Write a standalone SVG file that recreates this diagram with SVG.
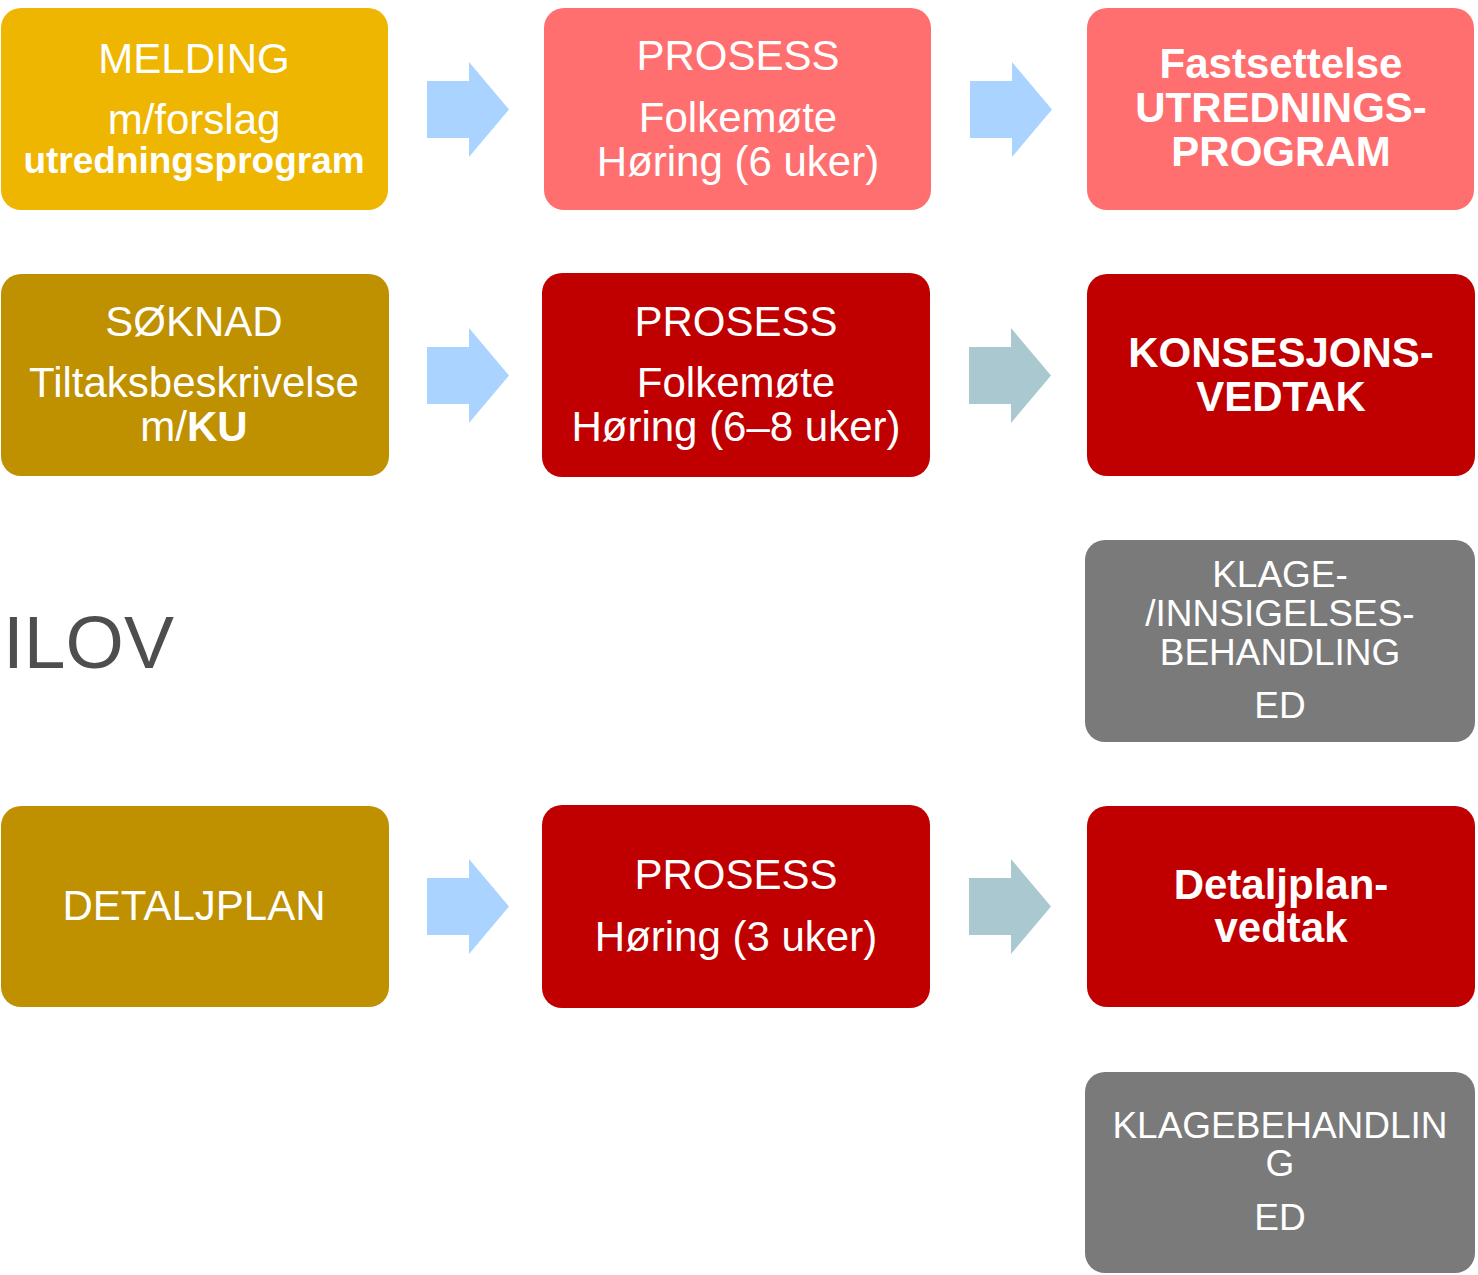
<svg xmlns="http://www.w3.org/2000/svg" width="1478" height="1275" viewBox="0 0 1478 1275">
<style>
text{font-family:"Liberation Sans",Arial,sans-serif;fill:#ffffff;text-anchor:middle}
.r{font-size:42px}
.b{font-size:42px;font-weight:bold}
.b37{font-size:37px;font-weight:bold}
.s{font-size:37px}
.gold{fill:#eeb600}
.ochre{fill:#bf9000}
.salmon{fill:#ff6f6f}
.red{fill:#c00000}
.gray{fill:#7a7a7a}
.a1{fill:#aad4ff}
.a2{fill:#aac8d0}
</style>
<defs>
<path id="arr" d="M0,19 H42 V0 L82,47.5 L42,95 V76 H0 Z"/>
</defs>
<rect width="1478" height="1275" fill="#ffffff"/>
<g id="connectors">
<use href="#arr" x="427" y="62" class="a1"/>
<use href="#arr" x="970" y="62" class="a1"/>
<use href="#arr" x="427" y="328" class="a1"/>
<use href="#arr" x="969" y="328" class="a2"/>
<use href="#arr" x="427" y="859" class="a1"/>
<use href="#arr" x="969" y="859" class="a2"/>
</g>
<g id="melding">
<rect x="1" y="8" width="387" height="202" rx="20" class="gold"/>
<text x="194" y="73" class="r">MELDING</text>
<text x="194" y="134" class="r">m/forslag</text>
<text x="194" y="173" class="b37">utredningsprogram</text>
</g>
<g id="prosess1">
<rect x="544" y="8" width="387" height="202" rx="20" class="salmon"/>
<text x="738" y="70" class="r">PROSESS</text>
<text x="738" y="132" class="r">Folkemøte</text>
<text x="738" y="176" class="r">Høring (6 uker)</text>
</g>
<g id="fastsettelse">
<rect x="1087" y="8" width="387" height="202" rx="20" class="salmon"/>
<text x="1281" y="78" class="b">Fastsettelse</text>
<text x="1281" y="122" class="b">UTREDNINGS-</text>
<text x="1281" y="166" class="b">PROGRAM</text>
</g>
<g id="soknad">
<rect x="1" y="274" width="388" height="202" rx="20" class="ochre"/>
<text x="194" y="336" class="r">SØKNAD</text>
<text x="194" y="397" class="r">Tiltaksbeskrivelse</text>
<text x="194" y="441" class="r">m/<tspan font-weight="bold">KU</tspan></text>
</g>
<g id="prosess2">
<rect x="542" y="273" width="388" height="204" rx="20" class="red"/>
<text x="736" y="336" class="r">PROSESS</text>
<text x="736" y="397" class="r">Folkemøte</text>
<text x="736" y="441" class="r">Høring (6–8 uker)</text>
</g>
<g id="konsesjonsvedtak">
<rect x="1087" y="274" width="388" height="202" rx="20" class="red"/>
<text x="1281" y="367" class="b">KONSESJONS-</text>
<text x="1281" y="411" class="b">VEDTAK</text>
</g>
<g id="klage1">
<rect x="1085" y="540" width="390" height="202" rx="20" class="gray"/>
<text x="1280" y="587" class="s">KLAGE-</text>
<text x="1280" y="626" class="s">/INNSIGELSES-</text>
<text x="1280" y="665" class="s">BEHANDLING</text>
<text x="1280" y="718" class="s">ED</text>
</g>
<g id="ilov">
<text x="3" y="668" style="font-size:75px;fill:#4e4e50;text-anchor:start">ILOV</text>
</g>
<g id="detaljplan">
<rect x="1" y="806" width="388" height="201" rx="20" class="ochre"/>
<text x="194" y="920" class="r">DETALJPLAN</text>
</g>
<g id="prosess3">
<rect x="542" y="805" width="388" height="203" rx="20" class="red"/>
<text x="736" y="889" class="r">PROSESS</text>
<text x="736" y="951" class="r">Høring (3 uker)</text>
</g>
<g id="detaljplanvedtak">
<rect x="1087" y="806" width="388" height="201" rx="20" class="red"/>
<text x="1281" y="899" class="b">Detaljplan-</text>
<text x="1281" y="942" class="b">vedtak</text>
</g>
<g id="klage2">
<rect x="1085" y="1072" width="390" height="201" rx="20" class="gray"/>
<text x="1280" y="1138" class="s">KLAGEBEHANDLIN</text>
<text x="1280" y="1176" class="s">G</text>
<text x="1280" y="1230" class="s">ED</text>
</g>
</svg>
